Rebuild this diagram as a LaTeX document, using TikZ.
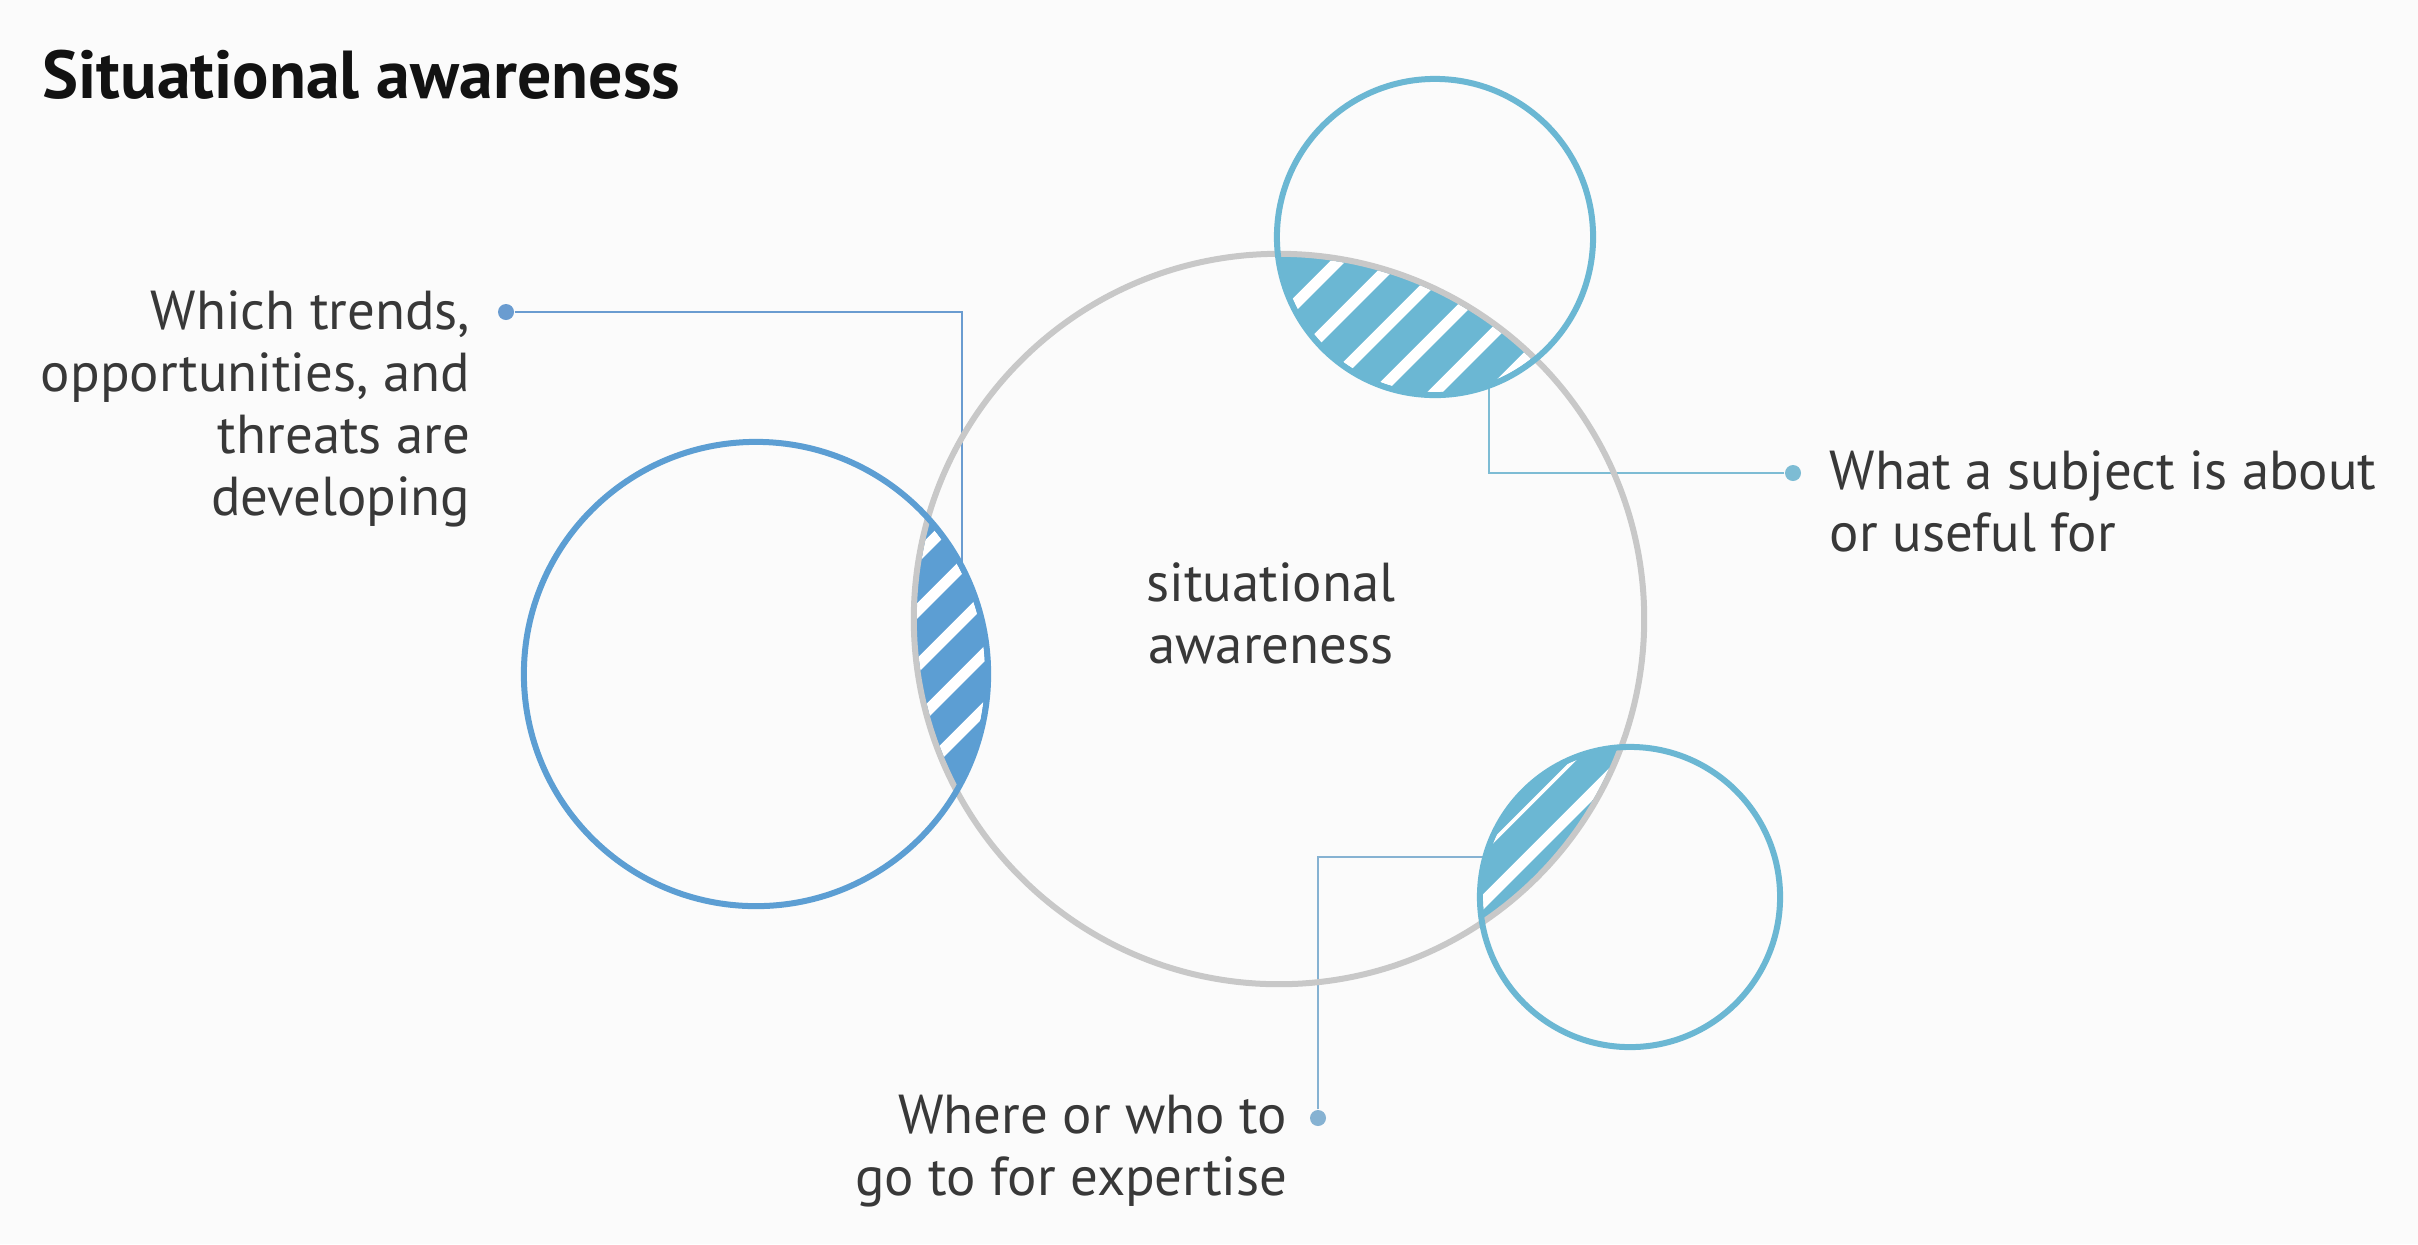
\documentclass[tikz,border=0pt]{standalone}
\usepackage{fontspec}
\setmainfont{PT Sans}
\definecolor{bgc}{HTML}{FBFBFB}
\definecolor{graycirc}{HTML}{C8C8C8}
\definecolor{bluec}{HTML}{5C9ED3}
\definecolor{tealc}{HTML}{6BB7D3}
\definecolor{textc}{HTML}{383838}
\definecolor{lineb}{HTML}{6A9CD0}
\definecolor{linet}{HTML}{7DBCD4}
\definecolor{linebr}{HTML}{86B2D2}
\begin{document}
\begin{tikzpicture}[x=0.01cm,y=-0.01cm,
  ring/.style={line width=0.06cm},
  conn/.style={line width=0.022cm},
  dotn/.style={circle,inner sep=0pt,minimum size=0.16cm},
  stripe/.style={white,line width=0.11cm},
  body/.style={text=textc,inner sep=0pt,font=\fontsize{15.6pt}{17.6pt}\selectfont}]
\useasboundingbox (0,0) rectangle (2418,1244);
\fill[bgc] (0,0) rectangle (2418,1244);

% connectors (under the lenses)
\node[dotn,fill=lineb] (d1) at (506,312) {};
\coordinate (e1) at (962,600);
\draw[conn,lineb] (d1) -| (e1);
\node[dotn,fill=linet] (d2) at (1793,473) {};
\coordinate (e2) at (1489,380);
\draw[conn,linet] (d2) -| (e2);
\node[dotn,fill=linebr] (d3) at (1318,1118) {};
\coordinate (e3) at (1500,857);
\draw[conn,linebr] (d3) |- (e3);

% lenses
\begin{scope}
  \clip (1279,619) circle (3.65cm);
  \fill[bluec] (756,674) circle (2.32cm);
  \fill[tealc] (1435,237) circle (1.58cm);
  \fill[tealc] (1630,897) circle (1.50cm);
\end{scope}
\begin{scope}
  \clip (1279,619) circle (3.62cm);
  \clip (756,674) circle (2.29cm);
  \foreach \k in {1473,1528,1583,1638,1693} \draw[stripe] (\k-1200,1200) -- (\k,0);
\end{scope}
\begin{scope}
  \clip (1279,619) circle (3.62cm);
  \clip (1435,237) circle (1.55cm);
  \foreach \k in {1599,1656,1713,1770,1827,1884} \draw[stripe] (\k-1200,1200) -- (\k,0);
\end{scope}
\begin{scope}
  \clip (1279,619) circle (3.62cm);
  \clip (1630,897) circle (1.47cm);
  \draw[stripe] (2385-1200,1200) -- (2385,0);
  \draw[white,line width=0.035cm] (2334-1200,1200) -- (2334,0);
\end{scope}

% circles
\node[draw=graycirc,ring,circle,minimum size=7.3cm,inner sep=0pt] (main) at (1279,619) {};
\node[draw=bluec,ring,circle,minimum size=4.64cm,inner sep=0pt] (cl) at (756,674) {};
\node[draw=tealc,ring,circle,minimum size=3.16cm,inner sep=0pt] (ct) at (1435,237) {};
\node[draw=tealc,ring,circle,minimum size=3.00cm,inner sep=0pt] (cb) at (1630,897) {};

% texts
\node[anchor=base west,inner sep=0pt,text=black!93,font=\bfseries\fontsize{19.3pt}{23pt}\selectfont] (title) at (42,98) {Situational awareness};
\node[body,anchor=north east,align=right] (tl) at (471,290) {Which trends,\\opportunities, and\\threats are\\developing};
\node[body,anchor=north west,align=left] (tr) at (1829,450) {What a subject is about\\or useful for};
\node[body,anchor=north east,align=right] (tb) at (1288,1094) {Where or who to\\go to for expertise};
\node[body,anchor=north,align=center] (tc) at (1271,562) {situational\\awareness};
\end{tikzpicture}
\end{document}
